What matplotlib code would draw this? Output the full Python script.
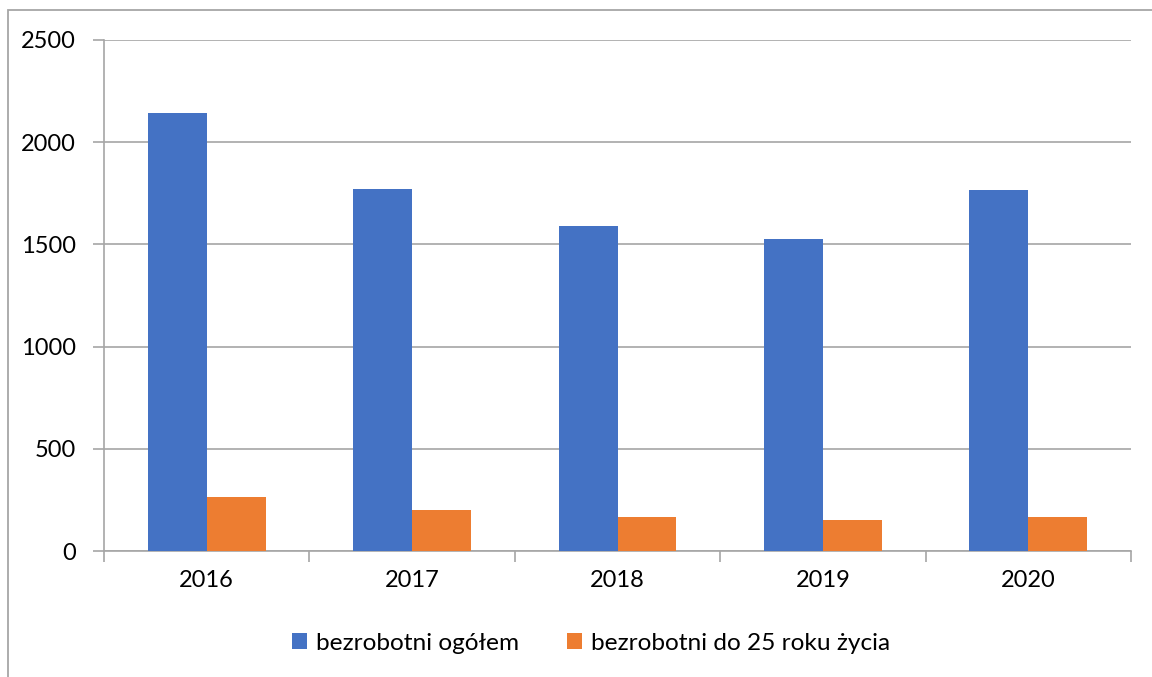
import matplotlib.pyplot as plt
import numpy as np
from matplotlib.patches import Rectangle

# dane
lata = ['2016', '2017', '2018', '2019', '2020']
ogolem = [2145, 1773, 1592, 1524, 1765]
do_25 = [262, 200, 166, 150, 167]

plt.rcParams['font.family'] = ['Lato', 'DejaVu Sans']

fig = plt.figure(figsize=(11.52, 6.77), dpi=100)
ax = fig.add_axes([104 / 1152, 1 - 551 / 677, 1027 / 1152, 511 / 677])

# ramka wykresu
fig.patches.append(Rectangle((8 / 1152, -0.1), 1.2, 1 - 10 / 677 + 0.1,
                             transform=fig.transFigure, fill=False,
                             edgecolor='#A6A6A6', linewidth=1.3))

x = np.arange(len(lata))
w = 0.287
ax.bar(x - w / 2, ogolem, w, color='#4472C4', label='bezrobotni ogółem', zorder=3)
ax.bar(x + w / 2, do_25, w, color='#ED7D31', label='bezrobotni do 25 roku życia', zorder=3)

ax.set_xlim(-0.5, len(lata) - 0.5)
ax.set_ylim(0, 2500)
ax.set_yticks(range(0, 2501, 500))
ax.yaxis.grid(True, color='#A6A6A6', linewidth=1.2, zorder=0)

ax.set_xticks(x)
ax.set_xticklabels(lata)
ax.set_xticks(np.arange(-0.5, len(lata)), minor=True)
ax.tick_params(axis='x', which='major', length=0, pad=14, labelsize=17)
ax.tick_params(axis='x', which='minor', length=8, width=1.2, color='#A6A6A6')
ax.tick_params(axis='y', length=8, width=1.2, color='#A6A6A6', pad=12, labelsize=17)

for s in ['top', 'right']:
    ax.spines[s].set_visible(False)
for s in ['left', 'bottom']:
    ax.spines[s].set_color('#A6A6A6')
    ax.spines[s].set_linewidth(1.2)

fig.legend(*ax.get_legend_handles_labels(), loc='center left',
           bbox_to_anchor=(292 / 1152, 1 - 643 / 677), bbox_transform=fig.transFigure,
           ncol=2, frameon=False, fontsize=17.6, borderpad=0, borderaxespad=0,
           handlelength=0.6, handleheight=0.6, handletextpad=0.37,
           columnspacing=1.97)

plt.savefig('out.png', dpi=100)
